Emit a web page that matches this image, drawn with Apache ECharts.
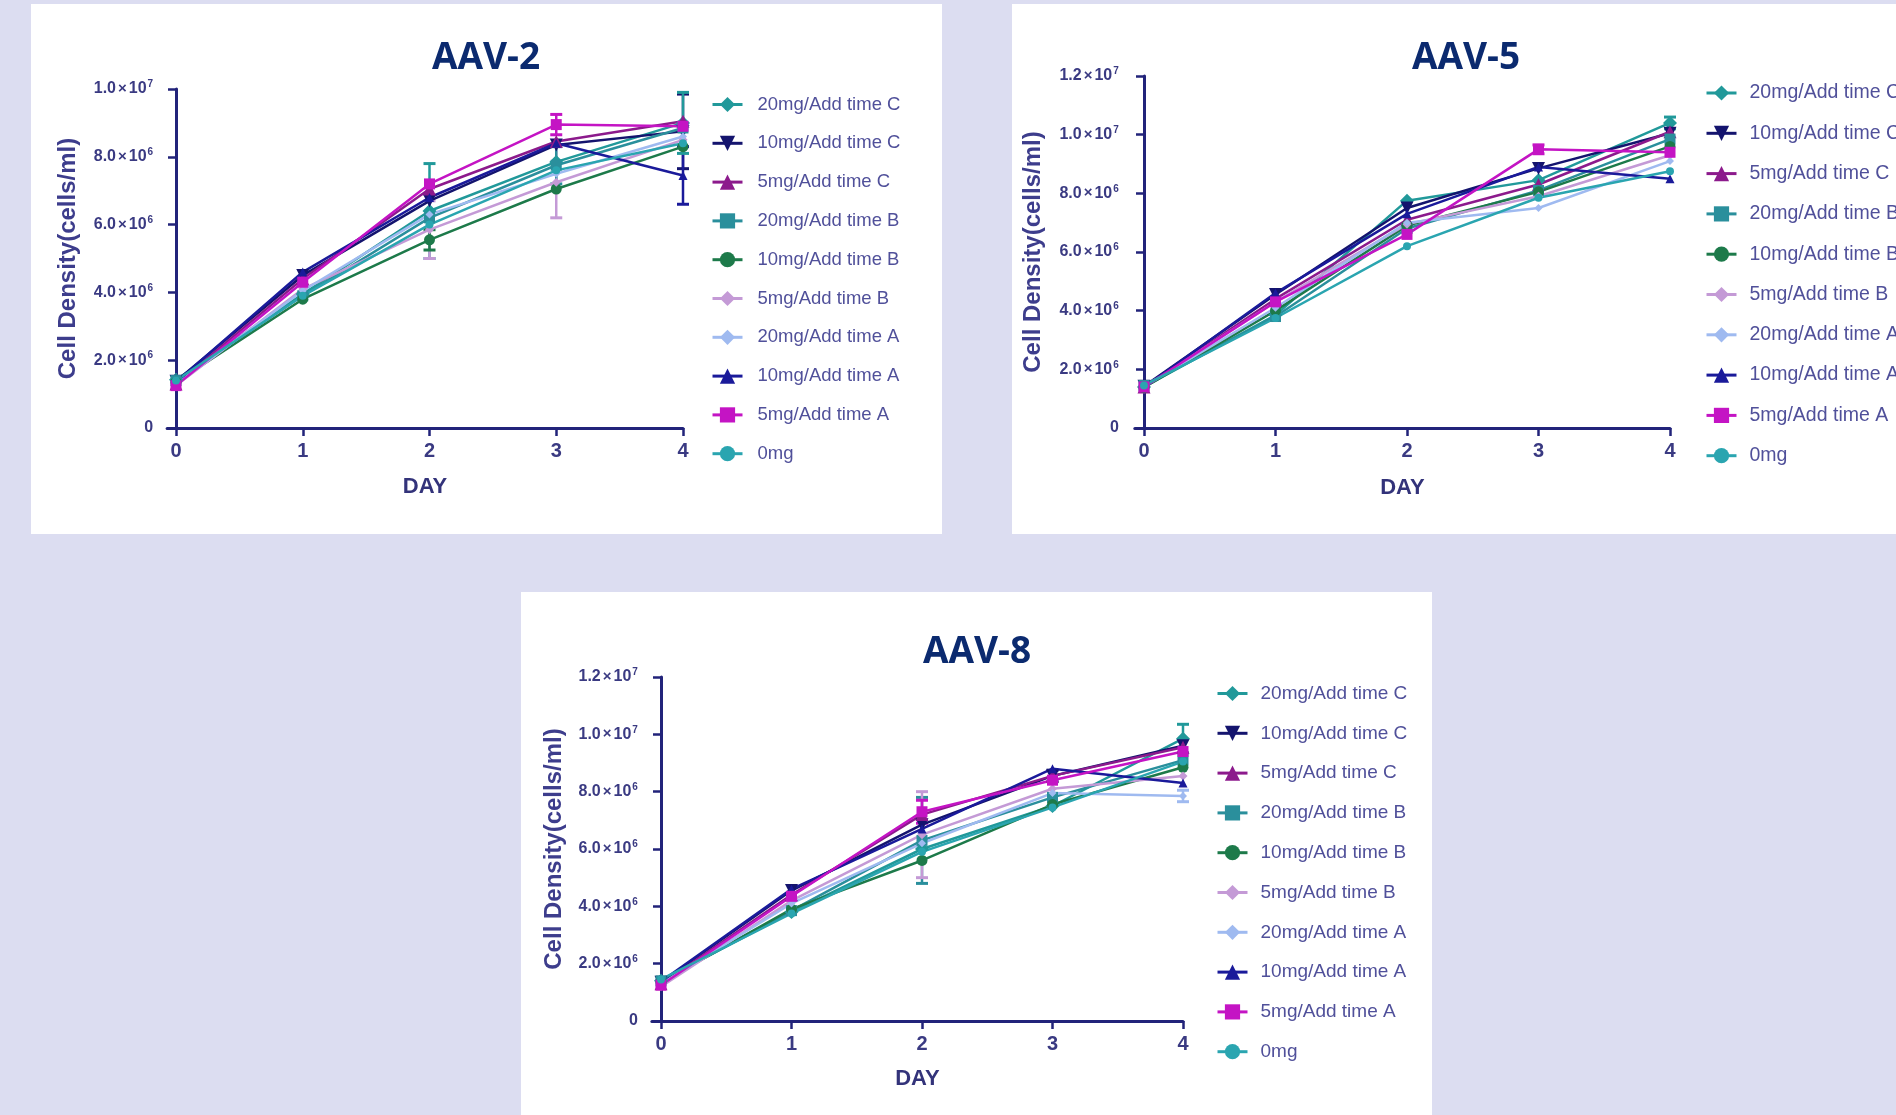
<!DOCTYPE html>
<html>
<head>
<meta charset="utf-8">
<title>AAV cell density</title>
<script src="https://cdn.jsdelivr.net/npm/echarts@6/dist/echarts.min.js"></script>
<style>
  html, body { margin: 0; padding: 0; width: 1896px; height: 1115px; overflow: hidden; background: #dcddf1; }
  .panel { position: absolute; background: #ffffff; }
</style>
</head>
<body>
<div id="aav2" class="panel" style="left:31px;top:4px;width:911px;height:530px;"></div>
<div id="aav5" class="panel" style="left:1012px;top:4px;width:884px;height:530px;"></div>
<div id="aav8" class="panel" style="left:521px;top:592px;width:911px;height:523px;"></div>
<script>
// Culture day on the x axis
const days = [0, 1, 2, 3, 4];

// Treatment groups, in legend order
const seriesNames = [
  '20mg/Add time C', '10mg/Add time C', '5mg/Add time C',
  '20mg/Add time B', '10mg/Add time B', '5mg/Add time B',
  '20mg/Add time A', '10mg/Add time A', '5mg/Add time A',
  '0mg'
];

// Cell density in units of 10^6 cells/ml, one row per treatment group (seriesNames order)
const aav2Values = [
  [1.42, 3.95, 6.40, 7.85, 9.00],
  [1.38, 4.50, 6.70, 8.35, 8.75],
  [1.30, 4.40, 7.05, 8.45, 9.05],
  [1.40, 3.90, 6.20, 7.75, 8.85],
  [1.35, 3.80, 5.55, 7.05, 8.30],
  [1.25, 4.10, 5.85, 7.25, 8.50],
  [1.30, 4.05, 6.30, 7.50, 8.60],
  [1.35, 4.60, 6.80, 8.40, 7.45],
  [1.25, 4.30, 7.20, 8.95, 8.90],
  [1.40, 3.90, 6.00, 7.60, 8.40]
];
const aav5Values = [
  [1.40, 3.85, 7.75, 8.45, 10.40],
  [1.42, 4.55, 7.50, 8.85, 10.05],
  [1.40, 4.40, 7.10, 8.30, 10.10],
  [1.45, 3.80, 6.80, 8.10, 9.85],
  [1.38, 4.00, 6.90, 8.05, 9.60],
  [1.40, 4.30, 6.95, 7.90, 9.30],
  [1.42, 4.10, 7.00, 7.50, 9.10],
  [1.38, 4.60, 7.30, 8.90, 8.50],
  [1.40, 4.30, 6.60, 9.50, 9.40],
  [1.45, 3.75, 6.20, 7.85, 8.75]
];
const aav8Values = [
  [1.40, 3.80, 6.00, 7.50, 9.85],
  [1.35, 4.55, 6.85, 8.55, 9.60],
  [1.30, 4.40, 7.20, 8.55, 9.55],
  [1.40, 3.85, 6.30, 7.80, 9.10],
  [1.35, 3.90, 5.60, 7.55, 8.85],
  [1.20, 4.20, 6.50, 8.10, 8.55],
  [1.30, 4.10, 6.20, 7.95, 7.85],
  [1.38, 4.60, 6.70, 8.80, 8.30],
  [1.25, 4.35, 7.30, 8.40, 9.40],
  [1.45, 3.75, 5.90, 7.45, 9.05]
];

// Standard deviations (10^6 cells/ml): [group, day, sd]
const aav2ErrorBars = [
  ['20mg/Add time C', 2, 1.40],
  ['5mg/Add time B', 2, 0.85],
  ['10mg/Add time B', 2, 0.30],
  ['5mg/Add time A', 3, 0.30],
  ['5mg/Add time B', 3, 1.05],
  ['20mg/Add time B', 3, 0.55],
  ['10mg/Add time C', 4, 1.10],
  ['10mg/Add time A', 4, 0.85],
  ['20mg/Add time C', 4, 0.90]
];
const aav5ErrorBars = [
  ['20mg/Add time C', 4, 0.20],
  ['5mg/Add time A', 3, 0.15]
];
const aav8ErrorBars = [
  ['20mg/Add time B', 2, 1.50],
  ['5mg/Add time B', 2, 1.50],
  ['5mg/Add time A', 2, 0.40],
  ['10mg/Add time C', 3, 0.20],
  ['20mg/Add time C', 4, 0.50],
  ['20mg/Add time A', 4, 0.20]
];

// Y axis ranges (10^6 cells/ml)
const aav2YMax = 10;
const aav5YMax = 12;
const aav8YMax = 12;

// Line / marker styling per group
const groupColors = ['#21999a', '#14146e', '#8c1a8c', '#2a8f9c', '#1d7a4a',
                     '#c49ad6', '#9fbaf0', '#1a1a9a', '#c414c4', '#2aa5b0'];
const groupMarkers = [
  { symbol: 'diamond', size: 14, rotate: 0 },
  { symbol: 'triangle', size: 13, rotate: 180 },
  { symbol: 'triangle', size: 13, rotate: 0 },
  { symbol: 'rect', size: 11, rotate: 0 },
  { symbol: 'circle', size: 11, rotate: 0 },
  { symbol: 'diamond', size: 9, rotate: 0 },
  { symbol: 'diamond', size: 8, rotate: 0 },
  { symbol: 'triangle', size: 9, rotate: 0 },
  { symbol: 'rect', size: 11, rotate: 0 },
  { symbol: 'circle', size: 8, rotate: 0 }
];

const AXIS_COLOR = '#22237a';
const TICK_TEXT = '#3a3a82';
const SANS = '"Liberation Sans", Arial, sans-serif';

function tickFormatter(v) {
  if (v === 0) return '0';
  if (v >= 10) return '{a|' + (v / 10).toFixed(1) + '}{x|×}{a|10}{s|7}';
  return '{a|' + v.toFixed(1) + '}{x|×}{a|10}{s|6}';
}

function buildPanel(domId, title, values, errorBars, yMax, L) {
  const chart = echarts.init(document.getElementById(domId), null, { renderer: 'canvas' });
  const perDay = (L.x4 - L.axisX) / 4;
  const xMin = -0.07;
  const gridLeft = L.axisX + xMin * perDay;

  const lines = seriesNames.map((name, k) => ({
    type: 'line',
    name: name,
    data: days.map((d, i) => [d, values[k][i]]),
    symbol: groupMarkers[k].symbol,
    symbolSize: groupMarkers[k].size,
    symbolRotate: groupMarkers[k].rotate,
    showSymbol: true,
    lineStyle: { width: 2.5, color: groupColors[k] },
    itemStyle: { color: groupColors[k] },
    emphasis: { disabled: true },
    animation: false,
    z: 3
  }));

  const errData = errorBars.map(([name, day, sd]) => {
    const k = seriesNames.indexOf(name);
    return [day, values[k][days.indexOf(day)], sd, k];
  });

  const errSeries = {
    type: 'custom',
    name: 'sd',
    silent: true,
    animation: false,
    clip: false,
    z: 2,
    encode: { x: 0, y: 1 },
    data: errData,
    renderItem: function (params, api) {
      const x = api.value(0), y = api.value(1), e = api.value(2), k = api.value(3);
      const top = api.coord([x, y + e]);
      const bot = api.coord([x, y - e]);
      const c = groupColors[k];
      const w = 6;
      return {
        type: 'group',
        children: [
          { type: 'line', shape: { x1: top[0], y1: top[1], x2: bot[0], y2: bot[1] }, style: { stroke: c, lineWidth: 2.5 } },
          { type: 'line', shape: { x1: top[0] - w, y1: top[1], x2: top[0] + w, y2: top[1] }, style: { stroke: c, lineWidth: 3 } },
          { type: 'line', shape: { x1: bot[0] - w, y1: bot[1], x2: bot[0] + w, y2: bot[1] }, style: { stroke: c, lineWidth: 3 } }
        ]
      };
    }
  };

  chart.setOption({
    backgroundColor: '#ffffff',
    animation: false,
    graphic: [{
      type: 'text',
      x: L.titleX,
      y: L.titleY,
      style: {
        text: title,
        font: 'bold 37px "Open Sans", "Noto Sans", sans-serif',
        fill: '#0b2a6f',
        align: 'center',
        verticalAlign: 'middle'
      }
    }],
    legend: {
      data: seriesNames,
      orient: 'vertical',
      left: L.legLeft,
      top: L.legTop,
      itemWidth: 30,
      itemHeight: 19,
      itemGap: L.legGap,
      selectedMode: false,
      lineStyle: { width: 3 },
      textStyle: {
        fontFamily: SANS,
        fontSize: L.legFont,
        color: '#50509a',
        padding: [0, 0, 0, L.legPad]
      }
    },
    grid: {
      left: gridLeft,
      width: L.x4 - gridLeft,
      top: L.gridTop,
      height: L.y0 - L.gridTop,
      outerBoundsMode: 'none',
      containLabel: false
    },
    xAxis: {
      type: 'value',
      min: xMin,
      max: 4,
      name: 'DAY',
      nameLocation: 'middle',
      nameGap: L.xNameGap,
      nameTextStyle: { fontFamily: SANS, fontSize: 22, fontWeight: 'bold', color: '#33337a' },
      axisLine: { show: true, onZero: true, lineStyle: { color: AXIS_COLOR, width: 3 } },
      axisTick: { show: true, length: 8, customValues: days, lineStyle: { color: AXIS_COLOR, width: 2.5 } },
      axisLabel: {
        customValues: days,
        margin: L.xLabelMargin,
        fontFamily: SANS, fontSize: 20, fontWeight: 'bold', color: TICK_TEXT,
        formatter: v => String(v)
      },
      splitLine: { show: false }
    },
    yAxis: {
      type: 'value',
      min: 0,
      max: yMax,
      interval: 2,
      name: 'Cell Density(cells/ml)',
      nameLocation: 'middle',
      nameGap: L.yNameGap,
      nameTextStyle: { fontFamily: SANS, fontSize: 24, fontWeight: 'bold', color: '#3d3d8c' },
      axisLine: { show: true, onZero: true, lineStyle: { color: AXIS_COLOR, width: 3 } },
      axisTick: { show: true, length: 8, lineStyle: { color: AXIS_COLOR, width: 2.5 } },
      axisLabel: {
        margin: L.yLabelMargin,
        fontFamily: SANS, fontSize: 16, fontWeight: 'bold', color: TICK_TEXT,
        formatter: tickFormatter,
        rich: {
          a: { fontFamily: SANS, fontSize: 16, fontWeight: 'bold', color: TICK_TEXT },
          x: { fontFamily: SANS, fontSize: 15, fontWeight: 'bold', color: TICK_TEXT, padding: [0, 2, 0, 2] },
          s: { fontFamily: SANS, fontSize: 10, fontWeight: 'bold', color: TICK_TEXT, padding: [0, 0, 9, 1] }
        }
      },
      splitLine: { show: false }
    },
    series: [errSeries].concat(lines)
  });
  return chart;
}

buildPanel('aav2', 'AAV-2', aav2Values, aav2ErrorBars, aav2YMax, {
  axisX: 145, x4: 652, gridTop: 85, y0: 424,
  titleX: 455, titleY: 54,
  legLeft: 675, legTop: 86, legGap: 19.8, legFont: 18.5, legPad: 10,
  yNameGap: 87, yLabelMargin: 14, xLabelMargin: 13, xNameGap: 48
});
buildPanel('aav5', 'AAV-5', aav5Values, aav5ErrorBars, aav5YMax, {
  axisX: 132, x4: 658, gridTop: 72, y0: 424,
  titleX: 454, titleY: 54,
  legLeft: 688, legTop: 74, legGap: 20.3, legFont: 19.5, legPad: 8,
  yNameGap: 89, yLabelMargin: 16, xLabelMargin: 13, xNameGap: 49
});
buildPanel('aav8', 'AAV-8', aav8Values, aav8ErrorBars, aav8YMax, {
  axisX: 140, x4: 662, gridTop: 85, y0: 429,
  titleX: 456, titleY: 60,
  legLeft: 690, legTop: 87, legGap: 20.8, legFont: 19, legPad: 8,
  yNameGap: 85, yLabelMargin: 14, xLabelMargin: 13, xNameGap: 47
});
</script>
</body>
</html>
